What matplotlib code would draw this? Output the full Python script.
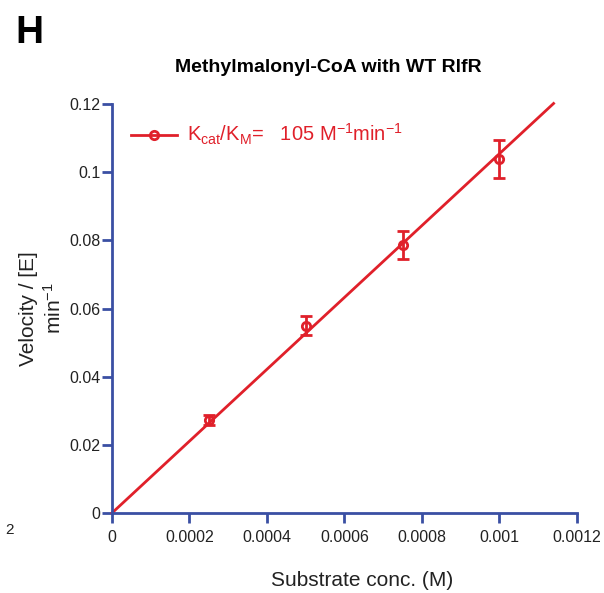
import matplotlib.pyplot as plt
import numpy as np

plt.rcParams['font.family'] = ['Liberation Sans', 'DejaVu Sans']
plt.rcParams['mathtext.default'] = 'regular'

# data
conc = [0.00025, 0.0005, 0.00075, 0.001]      # M
vel = [0.0273, 0.0549, 0.0786, 0.1039]        # min^-1
err = [0.0015, 0.0028, 0.0041, 0.0055]
kcat_km = 105.4                              # fitted slope
fit_end = 0.00114

red = '#e0202a'
blue = '#3a4fa3'

fig = plt.figure(figsize=(6.04, 5.93), dpi=100)
ax = fig.add_axes([0.1854, 0.1349, 0.7696, 0.6897])

# fit line
xf = np.array([0, fit_end])
ax.plot(xf, kcat_km * xf, color=red, lw=2, clip_on=False, zorder=2)

# points with error bars
ax.errorbar(conc, vel, yerr=err, fmt='o', mfc='none', mec=red, mew=2, ms=6,
            ecolor=red, elinewidth=2, capsize=4, capthick=2, zorder=3)

# legend handle drawn as line+marker
ax.plot([], [], color=red, lw=2, marker='o', mfc='none', mec=red, mew=2, ms=6,
        label=r'K$_{cat}$/K$_{M}$=   105 M$^{-1}$min$^{-1}$')
leg = ax.legend(loc='upper left', frameon=False, fontsize=14.5, handlelength=2.3,
                handletextpad=0.5, bbox_to_anchor=(0.01, 0.99), borderaxespad=0.3)
for t in leg.get_texts():
    t.set_color(red)

ax.set_xlim(0, 0.0012)
ax.set_ylim(0, 0.12)
ax.set_xticks([0, 0.0002, 0.0004, 0.0006, 0.0008, 0.001, 0.0012])
ax.set_xticklabels(['0', '0.0002', '0.0004', '0.0006', '0.0008', '0.001', '0.0012'])
ax.set_yticks([0, 0.02, 0.04, 0.06, 0.08, 0.1, 0.12])
ax.set_yticklabels(['0', '0.02', '0.04', '0.06', '0.08', '0.1', '0.12'])

for s in ['top', 'right']:
    ax.spines[s].set_visible(False)
for s in ['left', 'bottom']:
    ax.spines[s].set_color(blue)
    ax.spines[s].set_linewidth(2)
ax.tick_params(direction='out', length=7, width=2, color=blue, labelsize=11.5,
               labelcolor='#222222')
ax.tick_params(axis='y', pad=1.5)
ax.tick_params(axis='x', pad=5)

ax.set_xlabel('Substrate conc. (M)', fontsize=15, color='#222222', labelpad=17)
ax.xaxis.set_label_coords((362 - 112) / 465, -0.142)
ax.set_ylabel('Velocity / [E]\nmin$^{-1}$', fontsize=15, color='#222222',
              labelpad=3, linespacing=1.25)

# title sits a bit left of the axes centre in the original
fig.text(328 / 604, 1 - 72 / 593, 'Methylmalonyl-CoA with WT RlfR', fontsize=14,
         fontweight='bold', ha='center', va='baseline')

fig.text(15 / 604, 1 - 43 / 593, 'H', fontsize=28, fontweight='bold',
         va='baseline', ha='left')
fig.text(0.008, 0.095, '2', fontsize=11, color='#222222', va='bottom')

fig.savefig('out.png', dpi=100)
